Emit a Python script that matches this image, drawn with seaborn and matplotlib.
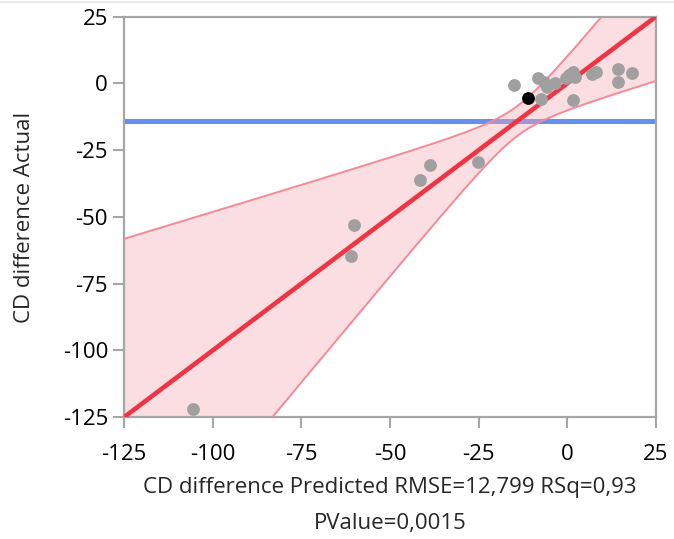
import numpy as np
import matplotlib
matplotlib.use("Agg")
import matplotlib.pyplot as plt
from matplotlib.lines import Line2D
import seaborn as sns

# data (actual by predicted)
predicted = [-105.6, -60.9, -60.2, -41.5, -38.7, -25.1, -15.0, -8.2, -7.3,
             -6.4, -5.8, -3.5, -0.3, 0.5, 1.7, 2.2, 1.6, 7.0, 8.1, 14.2,
             14.2, 18.4]
actual = [-122.0, -64.6, -52.9, -36.3, -30.5, -29.4, -0.6, 2.1, -5.9,
          0.4, -1.5, 0.3, 2.1, 3.0, 4.2, 2.5, -6.2, 3.6, 4.3, 5.4,
          0.5, 3.8]
hl_pred = [-11.0]
hl_actual = [-5.3]

rmse_txt = "12,799"
rsq_txt = "0,93"
pval_txt = "0,0015"

# confidence curve half-width parameters
band_a = 5.6
band_b = 0.6

sns.set_style("white")
plt.rcParams["font.family"] = ["Open Sans", "DejaVu Sans"]
plt.rcParams["axes.unicode_minus"] = False

fig = plt.figure(figsize=(6.74, 5.39), dpi=100)
ax = fig.add_axes([0.184, 0.226, 0.789, 0.743])

# faint frame line at the very top of the picture
fig.add_artist(Line2D([0, 1], [0.997, 0.997], transform=fig.transFigure,
                      color="#e4e4e4", lw=1.2))

all_act = actual + hl_actual
mean_act = np.mean(all_act)

ax.axhline(mean_act, color="#6690f0", lw=3.6, zorder=1)

xs = np.linspace(-125, 25, 300)
half = np.sqrt(band_a ** 2 + band_b ** 2 * (xs - mean_act) ** 2)
ax.fill_between(xs, xs - half, xs + half, color="#f7a9b4", alpha=0.38, lw=0, zorder=2)
ax.plot(xs, xs + half, color="#f48a95", lw=1.4, zorder=3)
ax.plot(xs, xs - half, color="#f48a95", lw=1.4, zorder=3)

sns.lineplot(x=[-125, 25], y=[-125, 25], color="#ef3444", lw=3.3, ax=ax, zorder=4)

sns.scatterplot(x=predicted, y=actual, color="#a0a0a0", s=85, linewidth=0, ax=ax, zorder=5)
sns.scatterplot(x=hl_pred, y=hl_actual, color="black", s=85, linewidth=0, ax=ax, zorder=6)

ax.set_xlim(-125, 25)
ax.set_ylim(-125, 25)
ticks = [-125, -100, -75, -50, -25, 0, 25]
ax.set_xticks(ticks)
ax.set_yticks(ticks)

for sp in ax.spines.values():
    sp.set_color("#a6a6a6")
    sp.set_linewidth(1.6)
    sp.set_visible(True)

ax.tick_params(axis="both", which="major", direction="out", length=8, width=1.5,
               color="#a6a6a6", labelsize=16, labelcolor="black",
               bottom=True, left=True)
ax.tick_params(axis="x", pad=11)
ax.tick_params(axis="y", pad=3.5)

ax.set_xlabel(f"CD difference Predicted RMSE={rmse_txt} RSq={rsq_txt}\nPValue={pval_txt}",
              fontsize=16, linespacing=1.95, labelpad=9)
ax.set_ylabel("CD difference Actual", fontsize=16, labelpad=20)

fig.savefig("out.png", dpi=100)
